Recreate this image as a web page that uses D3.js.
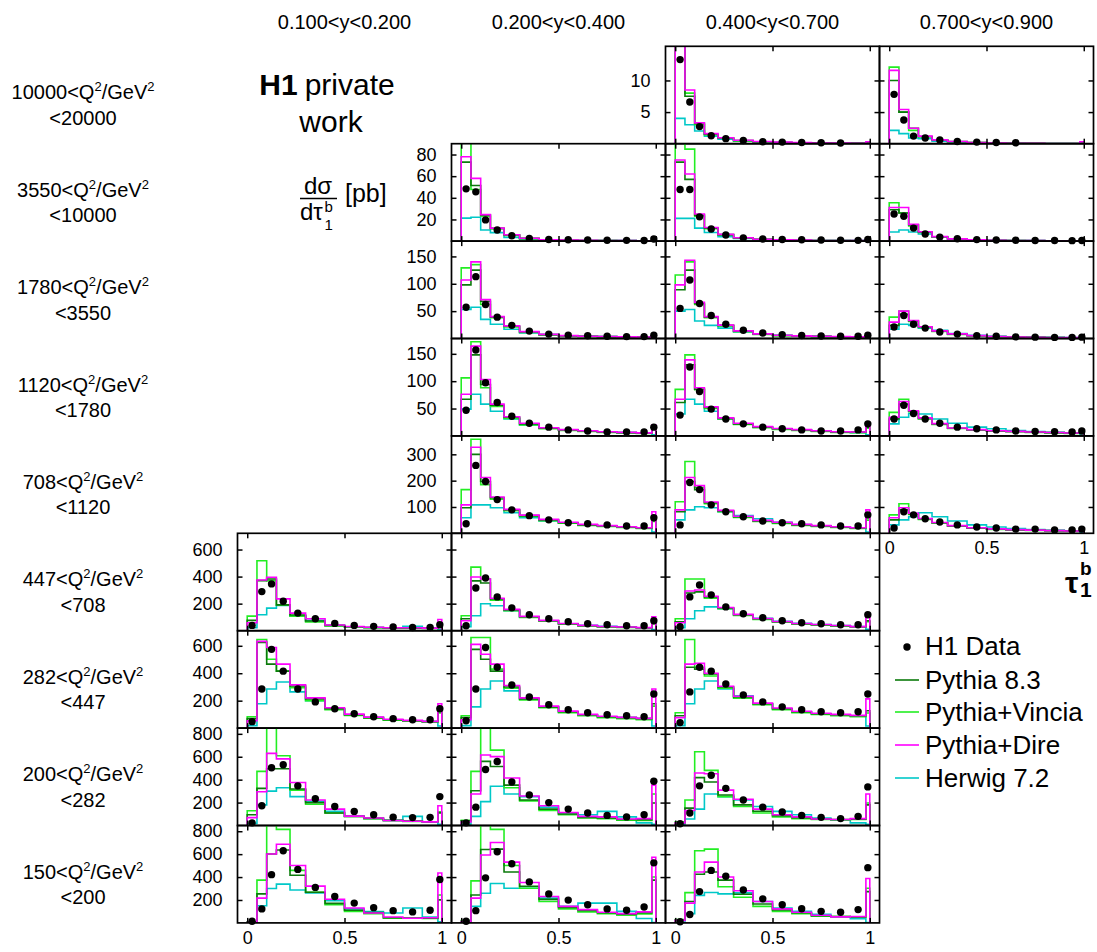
<!DOCTYPE html>
<html>
<head>
<meta charset="utf-8">
<script src="https://cdn.jsdelivr.net/npm/d3@7"></script>
<style>
  body { margin: 0; background: #fff; }
  text { font-family: "Liberation Sans", Arial, sans-serif; fill: #000; }
</style>
</head>
<body>
<svg id="chart" width="1097" height="952"></svg>
<script>
const binEdges = [0, 0.05, 0.1, 0.15, 0.22, 0.3, 0.4, 0.5, 0.6, 0.7, 0.8, 0.9, 0.98, 1.0]
const binCentres = [0.025, 0.075, 0.125, 0.185, 0.26, 0.35, 0.45, 0.55, 0.65, 0.75, 0.85, 0.94, 0.99]
const yBinLabels = ['0.100<y<0.200', '0.200<y<0.400', '0.400<y<0.700', '0.700<y<0.900']
const q2Low = ['10000', '3550', '1780', '1120', '708', '447', '282', '200', '150']
const q2High = ['20000', '10000', '3550', '1780', '1120', '708', '447', '282', '200']
const yMax = [15.4, 90, 178, 178, 370, 720, 710, 850, 850]
const yTicks = [[5, 10], [20, 40, 60, 80], [50, 100, 150], [50, 100, 150], [100, 200, 300],
  [200, 400, 600], [200, 400, 600], [200, 400, 600, 800], [200, 400, 600, 800]]
const xTicks = [0, 0.5, 1]
// [row (Q2 bin), column (y bin)]
const panels = [[0, 2], [0, 3], [1, 1], [1, 2], [1, 3], [2, 1], [2, 2], [2, 3], [3, 1], [3, 2], [3, 3],
  [4, 1], [4, 2], [4, 3], [5, 0], [5, 1], [5, 2], [6, 0], [6, 1], [6, 2], [7, 0], [7, 1], [7, 2],
  [8, 0], [8, 1], [8, 2]]

const h1Data = [
  [13.3, 6.6, 2.7, 1.25, 0.8, 0.5, 0.3, 0.25, 0.2, 0.15, 0.1, null, null],
  [7.8, 3.75, 1.2, 0.9, 0.6, 0.35, 0.25, 0.2, 0.15, null, null, null, null],
  [48.3, 45.5, 19.6, 10.3, 5.0, 2.5, 1.5, 1.2, 1.0, 0.8, 0.7, 0.6, 2.0],
  [47.7, 47.7, 22.4, 11.2, 5.6, 3.0, 2.0, 1.5, 1.2, 1.0, 0.8, 0.7, 1.5],
  [25, 23, 12, 6.5, 3.7, 2.2, 1.4, 1.0, 0.8, 0.6, 0.5, 0.4, 0.5],
  [57, 113, 62, 39, 24, 13.5, 8, 6, 5, 4, 3.5, 3.5, 6],
  [55, 107, 64, 42, 26, 15, 10, 7, 5.5, 4.5, 4, 4, 6],
  [21, 42, 26, 19, 12, 8, 5, 4, 3, 2.5, 2, 2, 2.5],
  [47, 157, 97, 61, 36, 23, 16, 11, 9, 7, 7, 7, 16],
  [38, 126, 81, 49, 31, 22, 16, 13, 11, 9, 9, 11, 22],
  [31, 56, 41, 31, 23, 16, 13, 11, 9, 8, 7.5, 7, 9],
  [36, 258, 197, 128, 89, 67, 51, 40, 36, 32, 28, 28, 59],
  [32, 193, 166, 108, 82, 63, 47, 40, 36, 32, 28, 28, 70],
  [20, 82, 70, 55, 43, 32, 24, 20, 16, 16, 13, 13, 16],
  [39, 289, 346, 218, 130, 88, 54, 39, 32, 27, 24, 24, 44],
  [37, 316, 390, 250, 169, 118, 88, 66, 51, 44, 37, 37, 74],
  [29, 250, 338, 265, 176, 125, 96, 74, 59, 51, 44, 44, 118],
  [47, 285, 574, 415, 285, 191, 141, 105, 83, 69, 61, 61, 141],
  [54, 285, 588, 444, 314, 227, 170, 134, 112, 97, 90, 83, 249],
  [40, 264, 444, 415, 321, 242, 191, 155, 134, 119, 112, 119, 249],
  [23, 172, 504, 530, 346, 234, 166, 123, 94, 73, 69, 71, 252],
  [23, 160, 489, 558, 380, 266, 200, 143, 109, 88, 75, 94, 386],
  [15, 109, 346, 438, 324, 223, 160, 118, 88, 71, 60, 80, 337],
  [15, 122, 421, 630, 467, 310, 230, 173, 133, 107, 96, 110, 379],
  [15, 107, 393, 621, 516, 358, 253, 199, 159, 122, 110, 139, 524],
  [10, 73, 273, 458, 407, 287, 210, 159, 124, 101, 93, 116, 482]
]

const pythia83 = [
  [15.8, 7.5, 3.2, 1.5, 0.9, 0.5, 0.3, 0.2, 0.15, 0.1, 0.08, 0.05, 0.1],
  [10.0, 5.0, 2.45, 1.15, 0.6, 0.35, 0.2, 0.12, 0.08, 0.05, 0.03, 0.02, 0.05],
  [73, 51.4, 24, 11.8, 5.6, 2.5, 1.2, 0.8, 0.6, 0.5, 0.4, 0.3, 2.0],
  [73, 57, 24, 12, 6, 3, 1.6, 1.1, 0.8, 0.6, 0.5, 0.4, 1.5],
  [29, 26, 15, 8.4, 4.0, 2.0, 1.1, 0.7, 0.5, 0.4, 0.3, 0.2, 0.4],
  [98, 125, 68, 39, 22.5, 12, 7, 5, 4, 3.5, 3, 2.5, 5],
  [89, 125, 64, 39, 24, 13.5, 8, 5.5, 4.5, 3.8, 3.2, 2.8, 5],
  [24, 44, 32, 21, 13.5, 8, 5, 3.5, 2.7, 2.2, 1.8, 1.5, 2],
  [67, 148, 94, 56, 34, 22, 14, 11, 9, 7, 6, 5, 16],
  [61, 130, 85, 52, 32, 22, 16, 13, 11, 9, 7, 7, 16],
  [31, 58, 45, 32, 22, 14, 11, 9, 8, 7, 6, 5, 8],
  [97, 300, 197, 135, 89, 67, 51, 40, 32, 28, 24, 20, 51],
  [82, 197, 166, 116, 85, 63, 47, 40, 32, 28, 24, 20, 59],
  [51, 89, 74, 55, 40, 28, 20, 16, 13, 12, 10, 9, 13],
  [76, 370, 382, 191, 116, 72, 39, 29, 24, 21, 21, 18, 39],
  [88, 368, 353, 235, 154, 103, 74, 51, 37, 29, 26, 22, 59],
  [66, 279, 287, 250, 169, 118, 88, 66, 51, 44, 37, 29, 74],
  [69, 625, 466, 415, 307, 213, 141, 97, 76, 61, 54, 47, 126],
  [76, 574, 502, 415, 300, 213, 155, 119, 97, 83, 76, 69, 177],
  [90, 444, 430, 394, 300, 227, 177, 141, 119, 105, 97, 90, 126],
  [94, 324, 495, 495, 318, 200, 109, 80, 62, 45, 38, 33, 110],
  [40, 303, 560, 515, 352, 223, 143, 100, 70, 65, 52, 50, 197],
  [23, 152, 418, 380, 266, 180, 125, 85, 68, 57, 52, 55, 180],
  [8, 253, 601, 636, 416, 267, 170, 110, 90, 45, 42, 42, 201],
  [11, 244, 641, 644, 444, 320, 205, 135, 108, 88, 75, 88, 373],
  [25, 187, 424, 444, 373, 250, 165, 112, 88, 63, 56, 52, 273]
]

const vincia = [
  [16.5, 8.0, 3.0, 1.4, 0.85, 0.45, 0.3, 0.2, 0.15, 0.1, 0.08, 0.05, 0.1],
  [12.1, 5.0, 2.1, 1.1, 0.55, 0.3, 0.18, 0.1, 0.07, 0.05, 0.03, 0.02, 0.05],
  [95, 47.7, 23, 11.5, 5.3, 2.3, 1.1, 0.7, 0.5, 0.4, 0.3, 0.3, 1.5],
  [95, 85, 23, 11.5, 5.5, 2.8, 1.5, 1.0, 0.7, 0.5, 0.4, 0.3, 1.2],
  [35.5, 26, 14, 8.0, 3.8, 1.9, 1.0, 0.6, 0.4, 0.3, 0.25, 0.2, 0.3],
  [129, 135, 62, 38, 21, 11, 6.5, 4.5, 3.5, 3, 2.5, 2, 4],
  [116, 140, 62, 38, 23, 12.5, 7.5, 5, 4, 3.4, 3, 2.5, 4],
  [39, 50, 31, 20, 13, 7.5, 4.5, 3.2, 2.5, 2, 1.6, 1.3, 1.5],
  [106, 172, 88, 54, 32, 20, 13, 10, 8, 6.5, 5.5, 4.5, 13],
  [85, 148, 85, 50, 31, 21, 15, 12, 10, 8, 6.5, 6, 14],
  [43, 67, 44, 31, 21, 13.5, 10.5, 8.5, 7.5, 6.5, 5.5, 4.5, 7],
  [166, 357, 185, 130, 86, 64, 48, 38, 30, 26, 22, 18, 45],
  [120, 273, 174, 112, 82, 60, 45, 37, 30, 26, 22, 18, 50],
  [70, 112, 72, 53, 38, 27, 19, 15, 12, 11, 9, 8, 11],
  [108, 517, 370, 191, 108, 64, 36, 27, 22, 19, 19, 16, 35],
  [110, 470, 382, 225, 148, 98, 70, 48, 35, 27, 24, 20, 52],
  [88, 382, 382, 240, 162, 112, 84, 62, 48, 41, 34, 27, 66],
  [83, 646, 502, 415, 295, 200, 135, 92, 72, 58, 50, 44, 110],
  [90, 660, 660, 430, 290, 205, 148, 112, 90, 76, 69, 62, 160],
  [112, 646, 444, 380, 290, 218, 170, 135, 112, 99, 91, 84, 110],
  [129, 472, 870, 609, 309, 186, 109, 78, 60, 43, 36, 31, 120],
  [45, 472, 880, 658, 329, 215, 131, 94, 66, 60, 46, 43, 275],
  [32, 223, 644, 481, 252, 166, 109, 75, 60, 52, 48, 52, 197],
  [10, 373, 870, 816, 458, 267, 159, 101, 80, 41, 40, 39, 244],
  [21, 367, 880, 816, 501, 302, 187, 122, 96, 81, 67, 79, 401],
  [30, 264, 630, 644, 316, 224, 144, 101, 81, 59, 56, 52, 302]
]

const dire = [
  [16.5, 8.5, 3.3, 1.6, 0.95, 0.55, 0.35, 0.25, 0.18, 0.12, 0.1, 0.06, 0.3],
  [11.6, 5.4, 2.45, 1.2, 0.6, 0.35, 0.2, 0.12, 0.08, 0.05, 0.03, 0.02, 0.3],
  [78, 58, 24.5, 12, 5.8, 2.6, 1.3, 0.9, 0.7, 0.5, 0.4, 0.3, 4.0],
  [75, 62, 25, 12.5, 6.2, 3.1, 1.7, 1.2, 0.9, 0.6, 0.5, 0.4, 3.0],
  [31, 31, 15.5, 8.6, 4.1, 2.1, 1.1, 0.7, 0.5, 0.4, 0.3, 0.2, 1.0],
  [107, 140, 71, 40, 23, 12.5, 7.5, 5.2, 4.2, 3.6, 3, 2.6, 8],
  [98, 143, 66, 40, 24.5, 14, 8.5, 6, 4.8, 4, 3.4, 3, 9],
  [30, 50, 33, 21.5, 14, 8.5, 5.2, 3.7, 2.8, 2.3, 1.9, 1.6, 3],
  [76, 164, 103, 58, 35, 23, 15, 11.5, 9.5, 7.5, 6.5, 5.5, 20],
  [67, 139, 88, 53, 33, 23, 17, 13.5, 11.5, 9.5, 7.5, 7, 23],
  [34, 63, 46, 33, 22.5, 14.5, 11.5, 9.5, 8.2, 7.2, 6.2, 5.2, 10],
  [108, 327, 212, 138, 91, 69, 53, 42, 34, 29, 25, 21, 82],
  [89, 212, 181, 119, 87, 65, 49, 42, 34, 29, 25, 21, 89],
  [59, 97, 76, 56, 41, 29, 21, 17, 14, 12, 10, 9, 15],
  [59, 375, 395, 235, 130, 88, 42, 31, 25, 22, 22, 19, 83],
  [74, 397, 382, 240, 158, 106, 76, 53, 39, 31, 27, 23, 103],
  [59, 294, 301, 255, 172, 121, 90, 68, 53, 46, 38, 30, 103],
  [54, 632, 588, 466, 315, 220, 148, 102, 80, 64, 56, 49, 177],
  [61, 610, 538, 466, 310, 220, 160, 124, 100, 86, 78, 71, 285],
  [76, 466, 473, 400, 305, 232, 182, 146, 123, 108, 100, 93, 213],
  [69, 294, 629, 581, 375, 223, 143, 82, 66, 43, 37, 32, 172],
  [30, 275, 615, 601, 415, 258, 172, 114, 80, 75, 57, 60, 352],
  [23, 131, 458, 452, 309, 229, 143, 94, 75, 57, 52, 60, 275],
  [6, 216, 601, 687, 501, 321, 207, 130, 87, 51, 41, 45, 435],
  [11, 216, 593, 701, 530, 353, 230, 144, 116, 93, 81, 96, 573],
  [22, 173, 444, 530, 401, 281, 187, 122, 93, 67, 53, 56, 387]
]

const herwig = [
  [4.0, 3.0, 2.0, 1.2, 0.7, 0.45, 0.3, 0.2, 0.15, 0.1, 0.08, 0.05, 0.02],
  [2.1, 1.6, 0.9, 0.8, 0.4, 0.25, 0.15, 0.1, 0.06, 0.04, 0.02, 0.01, 0.01],
  [21.2, 22.1, 10.3, 7.8, 3.4, 2.0, 1.2, 0.8, 0.6, 0.5, 0.4, 0.3, 0.2],
  [21, 21, 12, 8, 4, 2.5, 1.5, 1.0, 0.8, 0.6, 0.5, 0.4, 0.2],
  [8.4, 10.3, 8.4, 6.5, 3.5, 2.0, 1.2, 0.8, 0.5, 0.4, 0.3, 0.2, 0.1],
  [53, 57, 35, 26, 17, 10, 7, 5, 4, 3.5, 3, 2.5, 1],
  [50, 53, 32, 24, 19, 12, 8, 6, 4.5, 3.8, 3.2, 2.8, 1],
  [17, 26, 24, 19, 15, 9, 6, 4, 3, 2.5, 2, 1.6, 0.5],
  [49, 76, 58, 45, 31, 20, 14, 11, 9, 7, 6, 5, 2],
  [40, 67, 58, 45, 31, 22, 16, 13, 11, 9, 7, 6, 2],
  [22, 34, 41, 40, 31, 23, 16, 13, 10, 8, 6.5, 5, 1],
  [59, 108, 108, 97, 78, 59, 47, 38, 31, 27, 23, 19, 5],
  [51, 89, 101, 97, 82, 67, 55, 42, 33, 28, 24, 20, 5],
  [32, 51, 63, 78, 63, 47, 32, 24, 18, 14, 11, 9, 2],
  [22, 118, 167, 186, 108, 76, 39, 29, 24, 21, 32, 18, 8],
  [29, 110, 199, 184, 147, 103, 74, 51, 40, 33, 27, 22, 8],
  [22, 88, 147, 176, 162, 118, 92, 70, 55, 46, 38, 30, 10],
  [18, 177, 285, 336, 264, 199, 141, 97, 76, 61, 54, 47, 15],
  [18, 155, 285, 343, 271, 213, 155, 119, 97, 83, 76, 69, 15],
  [18, 177, 285, 343, 285, 235, 177, 141, 119, 105, 97, 90, 15],
  [17, 180, 300, 329, 252, 212, 123, 82, 62, 45, 80, 32, 10],
  [11, 80, 208, 343, 275, 252, 160, 109, 94, 123, 75, 23, 11],
  [11, 57, 143, 275, 252, 223, 166, 123, 94, 66, 46, 23, 11],
  [3, 150, 300, 338, 287, 261, 193, 122, 100, 87, 130, 51, 10],
  [4, 144, 259, 344, 302, 302, 216, 144, 173, 173, 101, 39, 4],
  [4, 81, 240, 265, 253, 262, 187, 130, 101, 75, 53, 36, 4]
]

const models = [
  { name: 'Pythia 8.3', values: pythia83, color: '#0b7a0b' },
  { name: 'Pythia+Vincia', values: vincia, color: '#22ee22' },
  { name: 'Pythia+Dire', values: dire, color: '#ff00ff' },
  { name: 'Herwig 7.2', values: herwig, color: '#00c8c8' }
]
// draw order: herwig under, dire on top
const drawOrder = [3, 1, 0, 2]

const gridLeft = 237.5
const gridTop = 46.3
const cellW = 214
const cellH = 97.4

const svg = d3.select('#chart')
svg.append('rect').attr('width', 1097).attr('height', 952).attr('fill', '#fff')

const x = d3.scaleLinear().domain([-0.05, 1.05]).range([0, cellW])

const firstCol = r => r === 0 ? 2 : (r <= 4 ? 1 : 0)

const styleAxis = (sel, withLabels) => {
  sel.select('.domain').remove()
  sel.selectAll('.tick line').attr('stroke', '#000').attr('stroke-width', 1.5)
  if (!withLabels) {
    sel.selectAll('.tick text').remove()
    return
  }
  sel.selectAll('.tick text')
    .style('font-family', '"Liberation Sans", Arial, sans-serif')
    .style('font-size', '18px')
}

panels.forEach(([r, c], p) => {
  const left = gridLeft + c * cellW
  const top = gridTop + r * cellH
  const g = svg.append('g').attr('transform', `translate(${left},${top})`)
  const y = d3.scaleLinear().domain([0, yMax[r]]).range([cellH, 0])

  const clipId = 'clip' + p
  g.append('clipPath').attr('id', clipId)
    .append('rect').attr('width', cellW).attr('height', cellH)

  const line = d3.line().x(d => x(d[0])).y(d => y(d[1]))
  drawOrder.forEach(m => {
    const vals = models[m].values[p]
    const pts = [[binEdges[0], 0]]
    vals.forEach((v, i) => { pts.push([binEdges[i], v], [binEdges[i + 1], v]) })
    pts.push([binEdges[binEdges.length - 1], 0])
    g.append('path')
      .attr('clip-path', `url(#${clipId})`)
      .attr('d', line(pts))
      .attr('fill', 'none')
      .attr('stroke', models[m].color)
      .attr('stroke-width', 1.6)
  })

  g.selectAll('circle.pt')
    .data(h1Data[p].map((v, i) => [binCentres[i], v]).filter(d => d[1] !== null))
    .enter().append('circle')
    .attr('class', 'pt')
    .attr('cx', d => x(d[0]))
    .attr('cy', d => y(d[1]))
    .attr('r', 3.7)
    .attr('fill', '#000')

  // ticks point inward on all four sides
  const showY = c === firstCol(r)
  const showX = r === 8 || (r === 4 && c === 3)
  g.append('g')
    .call(d3.axisLeft(y).tickValues(yTicks[r]).tickSize(-5).tickPadding(15))
    .call(s => styleAxis(s, showY))
  g.append('g').attr('transform', `translate(${cellW},0)`)
    .call(d3.axisRight(y).tickValues(yTicks[r]).tickSize(-5))
    .call(s => styleAxis(s, false))
  g.append('g').attr('transform', `translate(0,${cellH})`)
    .call(d3.axisBottom(x).tickValues(xTicks).tickSize(-5).tickPadding(8).tickFormat(d3.format('')))
    .call(s => styleAxis(s, showX))
  g.append('g')
    .call(d3.axisTop(x).tickValues(xTicks).tickSize(-5))
    .call(s => styleAxis(s, false))

  g.append('rect')
    .attr('width', cellW).attr('height', cellH)
    .attr('fill', 'none').attr('stroke', '#000').attr('stroke-width', 1.7)
})

// column headers
svg.selectAll('text.colhead')
  .data(yBinLabels)
  .enter().append('text')
  .attr('class', 'colhead')
  .attr('x', (d, i) => gridLeft + i * cellW + cellW / 2)
  .attr('y', 29)
  .attr('text-anchor', 'middle')
  .style('font-size', '20px')
  .text(d => d)

// row labels
q2Low.forEach((lo, r) => {
  const top = gridTop + r * cellH
  const t = svg.append('text')
    .attr('x', 83).attr('y', top + 53)
    .attr('text-anchor', 'middle')
    .style('font-size', '20px')
  t.append('tspan').text(lo + '<Q')
  t.append('tspan').attr('dy', -8).style('font-size', '13px').text('2')
  t.append('tspan').attr('dy', 8).text('/GeV')
  t.append('tspan').attr('dy', -8).style('font-size', '13px').text('2')
  svg.append('text')
    .attr('x', 83).attr('y', top + 78.5)
    .attr('text-anchor', 'middle')
    .style('font-size', '20px')
    .text('<' + q2High[r])
})

// H1 private work
const h1 = svg.append('text').attr('x', 327).attr('y', 95)
  .attr('text-anchor', 'middle').style('font-size', '30px')
h1.append('tspan').style('font-weight', 'bold').text('H1')
h1.append('tspan').attr('dx', 7).text('private')
svg.append('text').attr('x', 331).attr('y', 132)
  .attr('text-anchor', 'middle').style('font-size', '30px').text('work')

// y-axis title  dσ/dτ1b [pb]
svg.append('text').attr('x', 318).attr('y', 194).attr('text-anchor', 'middle')
  .style('font-size', '24px').text('dσ')
svg.append('line').attr('x1', 300).attr('x2', 337).attr('y1', 198.5).attr('y2', 198.5)
  .attr('stroke', '#000').attr('stroke-width', 1.5)
svg.append('text').attr('x', 300).attr('y', 220).style('font-size', '24px').text('dτ')
svg.append('text').attr('x', 324.5).attr('y', 212).style('font-size', '15px').text('b')
svg.append('text').attr('x', 324.5).attr('y', 230).style('font-size', '15px').text('1')
svg.append('text').attr('x', 345).attr('y', 202).style('font-size', '25px').text('[pb]')

// x-axis title
svg.append('text').attr('x', 1065).attr('y', 593)
  .style('font-size', '30px').style('font-weight', 'bold').text('τ')
svg.append('text').attr('x', 1080).attr('y', 575)
  .style('font-size', '19px').style('font-weight', 'bold').text('b')
svg.append('text').attr('x', 1080).attr('y', 597)
  .style('font-size', '21px').style('font-weight', 'bold').text('1')

// legend
const legX = 895
const legY = [647, 680, 712, 745, 778]
const leg = svg.append('g')
leg.append('circle').attr('cx', legX + 12).attr('cy', legY[0]).attr('r', 3.7).attr('fill', '#000')
leg.append('text').attr('x', 925).attr('y', legY[0] + 8).style('font-size', '26px').text('H1 Data')
models.forEach((m, i) => {
  leg.append('line')
    .attr('x1', legX).attr('x2', legX + 24)
    .attr('y1', legY[i + 1]).attr('y2', legY[i + 1])
    .attr('stroke', m.color).attr('stroke-width', 1.6)
  leg.append('text').attr('x', 925).attr('y', legY[i + 1] + 9)
    .style('font-size', '26px').text(m.name)
})
</script>
</body>
</html>
